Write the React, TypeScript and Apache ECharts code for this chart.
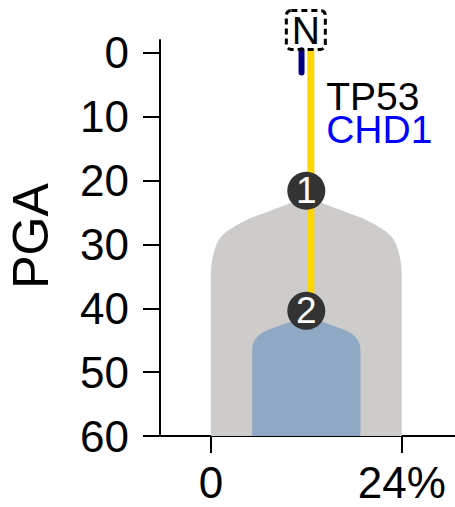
import React, { useEffect, useRef } from "react";
import * as echarts from "echarts";

// Clone outlines (x: % of cells, y: PGA)
const grayX = [0, 0, 0.05, 0.16, 0.4, 0.72, 1.2, 1.97, 3.2, 4.9, 7.3, 9.71, 12, 14.29, 16.7, 19.1, 20.8, 22.03, 22.8, 23.28, 23.6, 23.84, 23.95, 24, 24];
const grayY = [60, 34.5, 33.5, 32.4, 31.1, 29.9, 28.9, 28.0, 27.0, 25.9, 24.8, 23.68, 22.6, 23.68, 24.8, 25.9, 27.0, 28.0, 28.9, 29.9, 31.1, 32.4, 33.5, 34.5, 60];
const blueX = [5.19, 5.19, 5.25, 5.53, 5.9, 6.37, 7.2, 8.26, 9.5, 10.77, 12, 13.23, 14.5, 15.74, 16.8, 17.63, 18.1, 18.47, 18.75, 18.81, 18.81];
const blueY = [60, 46.54, 45.7, 44.97, 44.4, 43.92, 43.35, 42.89, 42.35, 41.84, 41.48, 41.84, 42.35, 42.89, 43.35, 43.92, 44.4, 44.97, 45.7, 46.54, 60];

// Lineage branches
const yellowX = [12.57, 12.57];
const yellowY = [-0.7, 40.4];
const navyX = [11.4, 11.4];
const navyY = [-0.4, 3.1];

// Numbered nodes
const nodeX = [12, 12];
const nodeY = [21.6, 40.4];
const nodeLabels = ["1", "2"];

// Annotations
const geneLabels = ["TP53", "CHD1"];
const geneColors = ["#000000", "#0000ff"];
const geneTopY = 6.74;
const geneX = 14.5;
const rootLabel = "N";
const rootPos = [11.94, -3.57];

// Axis ticks
const yTicks = [0, 10, 20, 30, 40, 50, 60];
const xTicks = [0, 24];
const xTickLabels = ["0", "24%"];

const FONT = "Liberation Sans, Arial, sans-serif";

function polySeries(xs: number[], ys: number[], color: string, z: number) {
  return {
    type: "custom",
    z,
    data: xs.map((x, i) => [x, ys[i]]),
    encode: { x: 0, y: 1 },
    silent: true,
    renderItem: (params: any, api: any) => {
      if (params.dataIndex !== 0) return null;
      const pts = xs.map((x, i) => api.coord([x, ys[i]]));
      return { type: "polygon", shape: { points: pts }, style: { fill: color } };
    },
  };
}

export default function App() {
  const ref = useRef<HTMLDivElement>(null);
  useEffect(() => {
    if (!ref.current) return;
    const chart = echarts.init(ref.current, null, { renderer: "svg" });
    chart.setOption({
      animation: false,
      grid: { left: 160, right: 0, top: 40, bottom: 71, containLabel: false, outerBoundsMode: "none" },
      xAxis: {
        type: "value",
        min: -6.4,
        max: 30.7,
        splitLine: { show: false },
        axisLine: { show: true, onZero: false, lineStyle: { color: "#000", width: 2 } },
        axisTick: { show: true, length: 17, customValues: xTicks, lineStyle: { color: "#000", width: 2 } },
        axisLabel: {
          customValues: xTicks,
          formatter: (v: number) => xTickLabels[xTicks.indexOf(v)] ?? "",
          fontSize: 44,
          fontFamily: FONT,
          color: "#000",
          margin: 24,
        },
      },
      yAxis: {
        type: "value",
        inverse: true,
        min: -2,
        max: 60,
        splitLine: { show: false },
        axisLine: { show: true, onZero: false, lineStyle: { color: "#000", width: 2 } },
        axisTick: { show: true, length: 17, customValues: yTicks, lineStyle: { color: "#000", width: 2 } },
        axisLabel: {
          customValues: yTicks,
          fontSize: 44,
          fontFamily: FONT,
          color: "#000",
          margin: 31,
        },
      },
      series: [
        polySeries(grayX, grayY, "#cdccca", 1),
        polySeries(blueX, blueY, "#8fa8c3", 2),
        {
          type: "line",
          z: 3,
          data: yellowX.map((x, i) => [x, yellowY[i]]),
          showSymbol: false,
          symbol: "none",
          lineStyle: { color: "#ffd700", width: 7, cap: "butt" },
          silent: true,
        },
        {
          type: "line",
          z: 3,
          data: navyX.map((x, i) => [x, navyY[i]]),
          showSymbol: false,
          symbol: "none",
          lineStyle: { color: "#000080", width: 6, cap: "round" },
          silent: true,
        },
        {
          type: "scatter",
          z: 4,
          data: nodeX.map((x, i) => [x, nodeY[i], nodeLabels[i]]),
          symbolSize: 38,
          itemStyle: { color: "#333333", opacity: 1 },
          label: {
            show: true,
            position: "inside",
            formatter: (p: any) => p.value[2],
            color: "#ffffff",
            fontSize: 37,
            fontFamily: FONT,
          },
          silent: true,
        },
      ],
    });

    const px = (x: number, y: number) => chart.convertToPixel({ gridIndex: 0 }, [x, y]) as number[];
    const nC = px(rootPos[0], rootPos[1]);
    const gP = px(geneX, geneTopY);
    const graphics: any[] = [
      {
        type: "rect",
        shape: { x: nC[0] - 19.5, y: nC[1] - 19.5, width: 39, height: 39, r: 5 },
        style: { fill: "none", stroke: "#000", lineWidth: 3, lineDash: [6, 4] },
        z: 10,
      },
      {
        type: "text",
        x: nC[0],
        y: nC[1] + 1,
        style: { text: rootLabel, fontSize: 39, fontFamily: FONT, fill: "#000", align: "center", verticalAlign: "middle" },
        z: 11,
      },
      {
        type: "text",
        x: 31,
        y: 236,
        rotation: Math.PI / 2,
        style: { text: "PGA", fontSize: 50, fontFamily: FONT, fill: "#000", align: "center", verticalAlign: "middle" },
        z: 10,
      },
      {
        type: "text",
        x: gP[0],
        y: gP[1] - 16.5,
        style: {
          text: geneLabels.map((g, i) => `{g${i}|${g}}`).join("\n"),
          fontSize: 39,
          fontFamily: FONT,
          align: "left",
          verticalAlign: "top",
          lineHeight: 33.5,
          rich: Object.fromEntries(
            geneLabels.map((_, i) => [
              `g${i}`,
              { fontSize: 39, fontFamily: FONT, fill: geneColors[i], lineHeight: 33.5 },
            ])
          ),
        },
        z: 10,
      },
    ];
    chart.setOption({ graphic: graphics });
    return () => chart.dispose();
  }, []);
  return <div ref={ref} style={{ position: "absolute", left: 0, top: 0, width: 455, height: 507 }} />;
}
